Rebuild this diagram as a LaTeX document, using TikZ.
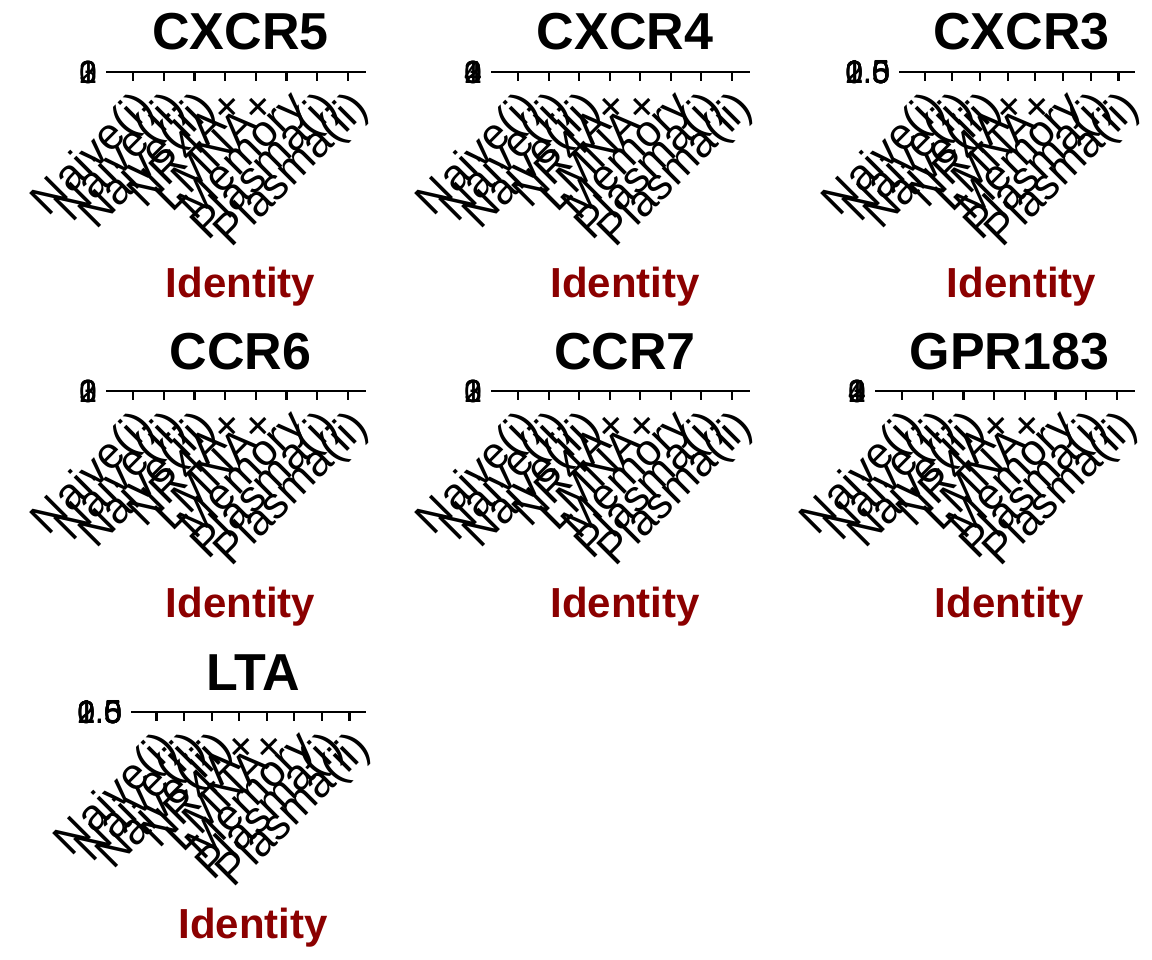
\documentclass[tikz,border=0pt]{standalone}
\usepackage{fontspec}
\setmainfont{Liberation Sans}
\definecolor{idred}{HTML}{8B0000}
\tikzset{
  axisline/.style={line width=2.2pt, line cap=butt},
  xlab/.style={inner sep=0pt, rotate=45, font=\fontsize{44}{44}\selectfont},
  ylab/.style={inner sep=0pt, font=\fontsize{32}{32}\selectfont},
  paneltitle/.style={inner sep=0pt, font=\fontsize{52}{52}\selectfont\bfseries},
  idlab/.style={inner sep=0pt, text=idred, font=\fontsize{42}{42}\selectfont\bfseries},
}
\newcommand\drawpanel[6]{% #1 id, #2 title, #3 L, #4 R, #5 axis y, #6 y labels
  \pgfmathsetmacro\unitw{(#4-#3)/8.2}
  \coordinate (#1-L) at (#3,#5);
  \coordinate (#1-R) at (#4,#5);
  \coordinate (#1-T) at (#3-9,#5);
  \draw[axisline] (#1-L) -- (#1-R);
  \draw[axisline] (#1-T) -- (#1-L);
  \foreach \lab [count=\i] in {Naive(i),Naive(ii),Naive(iii),NR4A+,LMNA+,Memory,Plasma(i),Plasma(ii)} {
    \pgfmathsetmacro\tx{#3+(\i-0.4)*\unitw}
    \coordinate (#1-k\i) at (\tx,#5);
    \coordinate (#1-e\i) at (\tx,#5+9);
    \draw[axisline] (#1-k\i) -- (#1-e\i);
    \node[xlab, anchor=north east] (#1-x\i) at (\tx,#5+15) {\lab};
  }
  \foreach \yl [count=\j] in {#6} {
    \node[ylab, anchor=east] (#1-y\j) at (#3-18,#5) {\yl};
  }
  \node[paneltitle, anchor=base] (#1-title) at ({(#3+#4)/2},#5-22) {#2};
  \node[idlab, anchor=base] (#1-id) at ({(#3+#4)/2},#5+226) {Identity};
}
\begin{document}
\begin{tikzpicture}[x=1pt,y=-1pt]
\useasboundingbox (0,0) rectangle (1152,960);
\fill[white] (0,0) rectangle (1152,960);
\drawpanel{p1}{CXCR5}{115}{366}{72}{0,1,2,3}
\drawpanel{p2}{CXCR4}{500}{750}{72}{0,1,2,3,4}
\drawpanel{p3}{CXCR3}{908}{1135}{72}{0.0,0.5,1.0,1.5,2.0,2.5}
\drawpanel{p4}{CCR6}{115}{366}{391}{0,1,2,3}
\drawpanel{p5}{CCR7}{500}{750}{391}{0,1,2,3}
\drawpanel{p6}{GPR183}{884}{1135}{391}{0,1,2,3,4}
\drawpanel{p7}{LTA}{140}{366}{712}{0.0,0.5,1.0,1.5,2.0,2.5}
\end{tikzpicture}
\end{document}
